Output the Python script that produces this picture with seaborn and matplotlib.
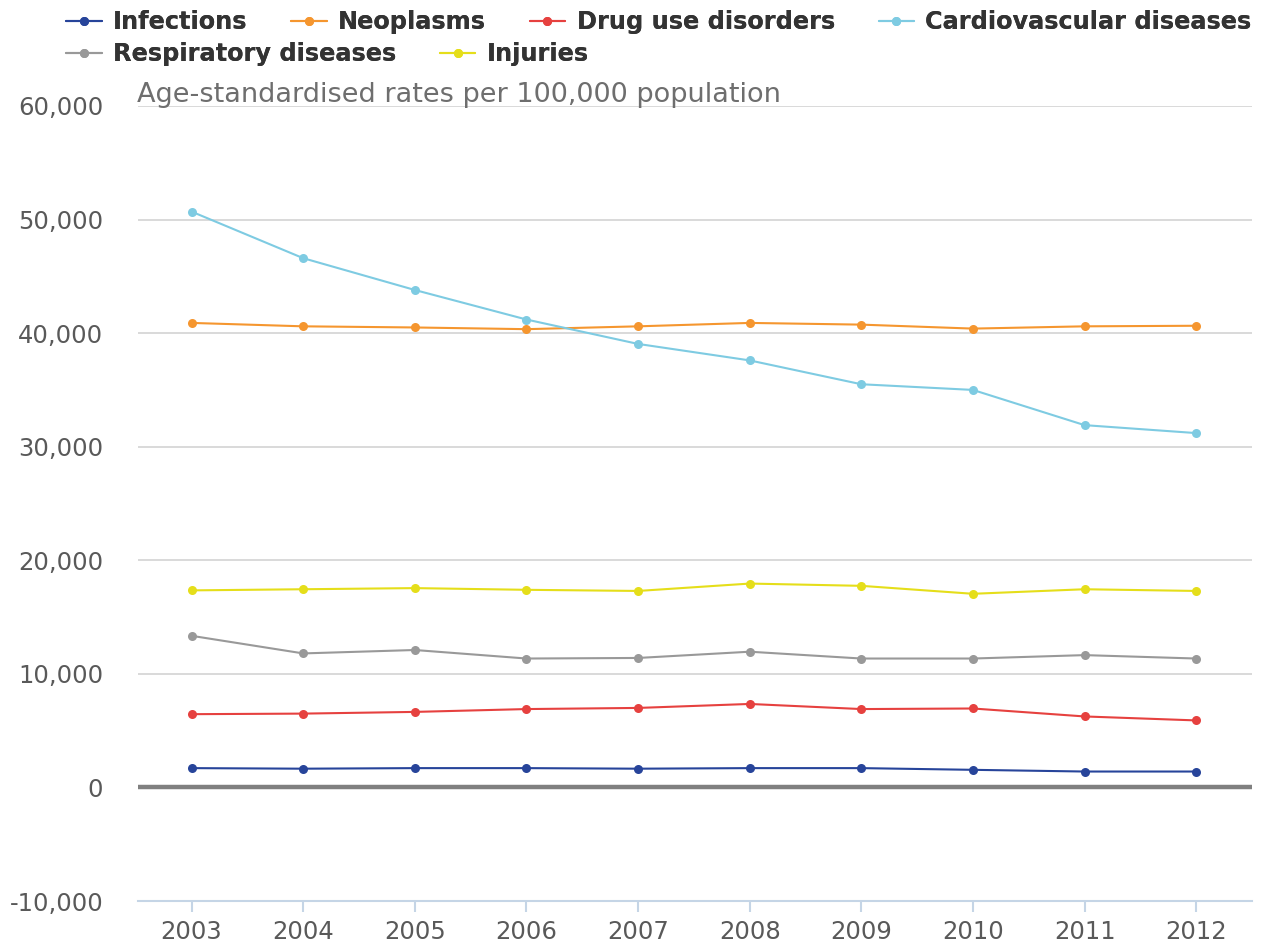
import matplotlib
matplotlib.use("Agg")
import matplotlib.pyplot as plt
import pandas as pd
import seaborn as sns
from matplotlib.ticker import FuncFormatter

# Chart data
years = [2003, 2004, 2005, 2006, 2007, 2008, 2009, 2010, 2011, 2012]
causes = ["Infections", "Neoplasms", "Drug use disorders",
          "Cardiovascular diseases", "Respiratory diseases", "Injuries"]
infections = [1700, 1650, 1700, 1700, 1650, 1700, 1700, 1550, 1400, 1400]
neoplasms = [40900, 40600, 40500, 40350, 40600, 40900, 40750, 40400, 40600, 40650]
drug_use = [6450, 6500, 6650, 6900, 7000, 7350, 6900, 6950, 6250, 5900]
cardiovascular = [50700, 46600, 43800, 41200, 39050, 37600, 35500, 35000, 31900, 31200]
respiratory = [13350, 11800, 12100, 11350, 11400, 11950, 11350, 11350, 11650, 11350]
injuries = [17350, 17450, 17550, 17400, 17300, 17950, 17750, 17050, 17450, 17300]
y_ticks = [-10000, 0, 10000, 20000, 30000, 40000, 50000, 60000]
colors = ["#27449a", "#f5962f", "#e6413f", "#7ecbe2", "#999999", "#e5de1a"]

series = [infections, neoplasms, drug_use, cardiovascular, respiratory, injuries]
df = pd.DataFrame({
    "year": years * len(causes),
    "cause": [c for c in causes for _ in years],
    "value": [v for s in series for v in s],
})

sns.set_theme(style="white")
plt.rcParams['font.family'] = ['DejaVu Sans']

W, H = 1265, 947
fig = plt.figure(figsize=(W / 100, H / 100), dpi=100)
ax = fig.add_axes([138 / W, 46 / H, 1114 / W, 795 / H])

sns.lineplot(data=df, x="year", y="value", hue="cause", hue_order=causes,
             palette=colors, marker="o", markersize=6.5, markeredgewidth=0,
             linewidth=1.5, legend=False, ax=ax, zorder=3)

ax.set_xlim(2002.52, 2012.5)
ax.set_ylim(-10000, 60000)
ax.set_xticks(years)
ax.set_yticks(y_ticks)
ax.yaxis.set_major_formatter(FuncFormatter(lambda v, p: f"{int(v):,}"))
ax.set_xlabel("")
ax.set_ylabel("")

ax.yaxis.grid(True, color="#d9d9d9", linewidth=1.4)
ax.xaxis.grid(False)
ax.axhline(0, color="#808080", linewidth=3.2, zorder=2)

for side in ["top", "right", "left"]:
    ax.spines[side].set_visible(False)
ax.spines["bottom"].set_color("#c5d5e6")
ax.spines["bottom"].set_linewidth(1.5)

ax.tick_params(axis="y", left=False, length=0, pad=25, labelsize=17.5,
               labelcolor="#595959")
ax.tick_params(axis="x", bottom=True, direction="out", length=8, width=1.5,
               color="#c5d5e6", pad=6, labelsize=17.5, labelcolor="#595959")

fig.text(137 / W, 1 - 95 / H, "Age-standardised rates per 100,000 population",
         fontsize=19.5, color="#6e6e6e", va="center", ha="left")

# two legend rows, laid out left to right like the original
handles = ax.lines[:len(causes)]
rows = [(0, 4, 22), (4, 6, 54)]
for start, stop, ypix in rows:
    leg = fig.legend(handles[start:stop], causes[start:stop], loc="center left",
                     bbox_to_anchor=(66 / W, 1 - ypix / H), ncol=stop - start,
                     frameon=False, borderpad=0, borderaxespad=0,
                     handlelength=1.48, handletextpad=0.47, columnspacing=1.82,
                     prop={"size": 17.3, "weight": "bold"})
    for t in leg.get_texts():
        t.set_color("#333333")
    fig.add_artist(leg)

fig.savefig("out.png", dpi=100)
